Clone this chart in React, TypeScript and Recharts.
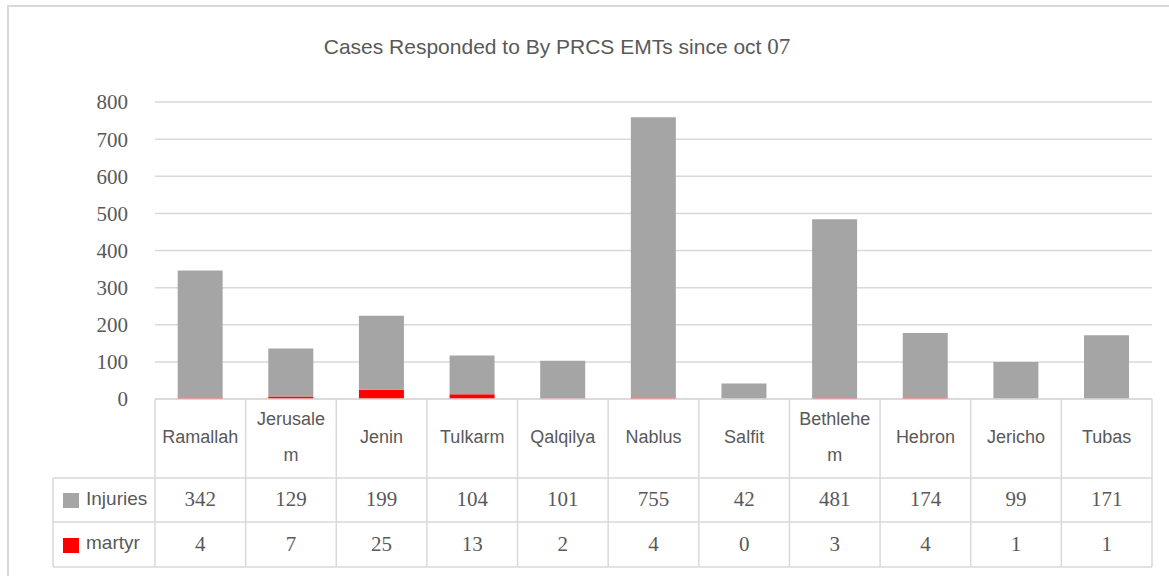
import React from 'react';
import { BarChart, Bar, XAxis, YAxis, CartesianGrid } from 'recharts';

const cities = ['Ramallah', 'Jerusalem', 'Jenin', 'Tulkarm', 'Qalqilya', 'Nablus', 'Salfit', 'Bethlehem', 'Hebron', 'Jericho', 'Tubas'];
const injuries = [342, 129, 199, 104, 101, 755, 42, 481, 174, 99, 171];
const martyr = [4, 7, 25, 13, 2, 4, 0, 3, 4, 1, 1];
const yTicks = [0, 100, 200, 300, 400, 500, 600, 700, 800];

const data = cities.map((name, i) => ({ name, injuries: injuries[i], martyr: martyr[i] }));

const W = 1169;
const H = 576;
const PLOT_LEFT = 155;
const PLOT_RIGHT = 1152;
const PLOT_TOP = 102;
const PLOT_BOTTOM = 399;
const ROW1 = 478;
const ROW2 = 522;
const ROW3 = 567;
const LEGEND_LEFT = 53;
const Y_AXIS_W = 60;
const X_AXIS_H = ROW3 - PLOT_BOTTOM + 1;

const GRID = '#D9D9D9';
const TEXT = '#595959';
const GRAY = '#A5A5A5';
const RED = '#FF0000';
const SANS = '"Liberation Sans", Arial, sans-serif';
const SERIF = '"Liberation Serif", "Times New Roman", serif';

const bw = (PLOT_RIGHT - PLOT_LEFT) / cities.length;

const splitName = (s: string) => (s.length > 8 ? [s.slice(0, 8), s.slice(8)] : [s]);

const TableTick = (props: any) => {
  const { x, payload, index } = props;
  const l = x - bw / 2;
  const r = x + bw / 2;
  const lines = splitName(String(payload.value));
  const i = index as number;
  return (
    <g>
      <line x1={l} y1={PLOT_BOTTOM} x2={l} y2={ROW3} stroke={GRID} strokeWidth={1.5} />
      {i === cities.length - 1 && <line x1={r} y1={PLOT_BOTTOM} x2={r} y2={ROW3} stroke={GRID} strokeWidth={1.5} />}
      {[ROW1, ROW2, ROW3].map((yy) => (
        <line key={yy} x1={l} y1={yy} x2={r} y2={yy} stroke={GRID} strokeWidth={1.5} />
      ))}
      {lines.length === 1 ? (
        <text x={x} y={437} textAnchor="middle" dominantBaseline="central" fontFamily={SANS} fontSize={18} fill={TEXT}>
          {lines[0]}
        </text>
      ) : (
        lines.map((t, k) => (
          <text key={k} x={x} y={419 + k * 36} textAnchor="middle" dominantBaseline="central" fontFamily={SANS} fontSize={18} fill={TEXT}>
            {t}
          </text>
        ))
      )}
      <text x={x} y={499} textAnchor="middle" dominantBaseline="central" fontFamily={SERIF} fontSize={21} fill={TEXT}>
        {injuries[i]}
      </text>
      <text x={x} y={544} textAnchor="middle" dominantBaseline="central" fontFamily={SERIF} fontSize={21} fill={TEXT}>
        {martyr[i]}
      </text>
      {i === 0 && (
        <g>
          <line x1={LEGEND_LEFT} y1={ROW1} x2={l} y2={ROW1} stroke={GRID} strokeWidth={1.5} />
          <line x1={LEGEND_LEFT} y1={ROW2} x2={l} y2={ROW2} stroke={GRID} strokeWidth={1.5} />
          <line x1={LEGEND_LEFT} y1={ROW3} x2={l} y2={ROW3} stroke={GRID} strokeWidth={1.5} />
          <line x1={LEGEND_LEFT} y1={ROW1} x2={LEGEND_LEFT} y2={ROW3} stroke={GRID} strokeWidth={1.5} />
          <rect x={63} y={493} width={16} height={15} fill={GRAY} />
          <text x={86} y={498} dominantBaseline="central" fontFamily={SANS} fontSize={19} fill={TEXT}>Injuries</text>
          <rect x={63} y={538} width={16} height={15} fill={RED} />
          <text x={86} y={542} dominantBaseline="central" fontFamily={SANS} fontSize={19} fill={TEXT}>martyr</text>
        </g>
      )}
    </g>
  );
};

export default function App() {
  return (
    <div style={{ position: 'absolute', left: 0, top: 0, width: W, height: H, background: '#fff', overflow: 'hidden' }}>
      <div style={{ position: 'absolute', left: 7, top: 5, width: W + 20, height: H + 20, border: `2px solid ${GRID}`, boxSizing: 'border-box' }} />
      <div
        style={{
          position: 'absolute',
          left: 557 - 300,
          width: 600,
          top: 32,
          textAlign: 'center',
          fontFamily: SANS,
          fontSize: 21,
          color: TEXT,
          lineHeight: '30px',
        }}
      >
        Cases Responded to By PRCS EMTs since oct <span style={{ fontFamily: SERIF, fontSize: 23 }}>07</span>
      </div>
      <div style={{ position: 'absolute', left: 0, top: 0 }}>
        <BarChart
          width={W}
          height={H}
          data={data}
          margin={{ top: PLOT_TOP, right: W - PLOT_RIGHT, left: PLOT_LEFT - Y_AXIS_W, bottom: H - PLOT_BOTTOM - X_AXIS_H }}
          barCategoryGap="25%"
        >
          <CartesianGrid vertical={false} stroke={GRID} strokeWidth={1.5} />
          <XAxis
            dataKey="name"
            height={X_AXIS_H}
            interval={0}
            axisLine={{ stroke: GRID, strokeWidth: 1.5 }}
            tickLine={false}
            tick={<TableTick />}
          />
          <YAxis
            width={Y_AXIS_W}
            domain={[0, 800]}
            ticks={yTicks}
            axisLine={false}
            tickLine={false}
            tickSize={0}
            tickMargin={27}
            tick={{ fill: TEXT, fontFamily: SERIF, fontSize: 21 }}
          />
          <Bar dataKey="martyr" stackId="a" fill={RED} isAnimationActive={false} />
          <Bar dataKey="injuries" stackId="a" fill={GRAY} isAnimationActive={false} />
        </BarChart>
      </div>
    </div>
  );
}
